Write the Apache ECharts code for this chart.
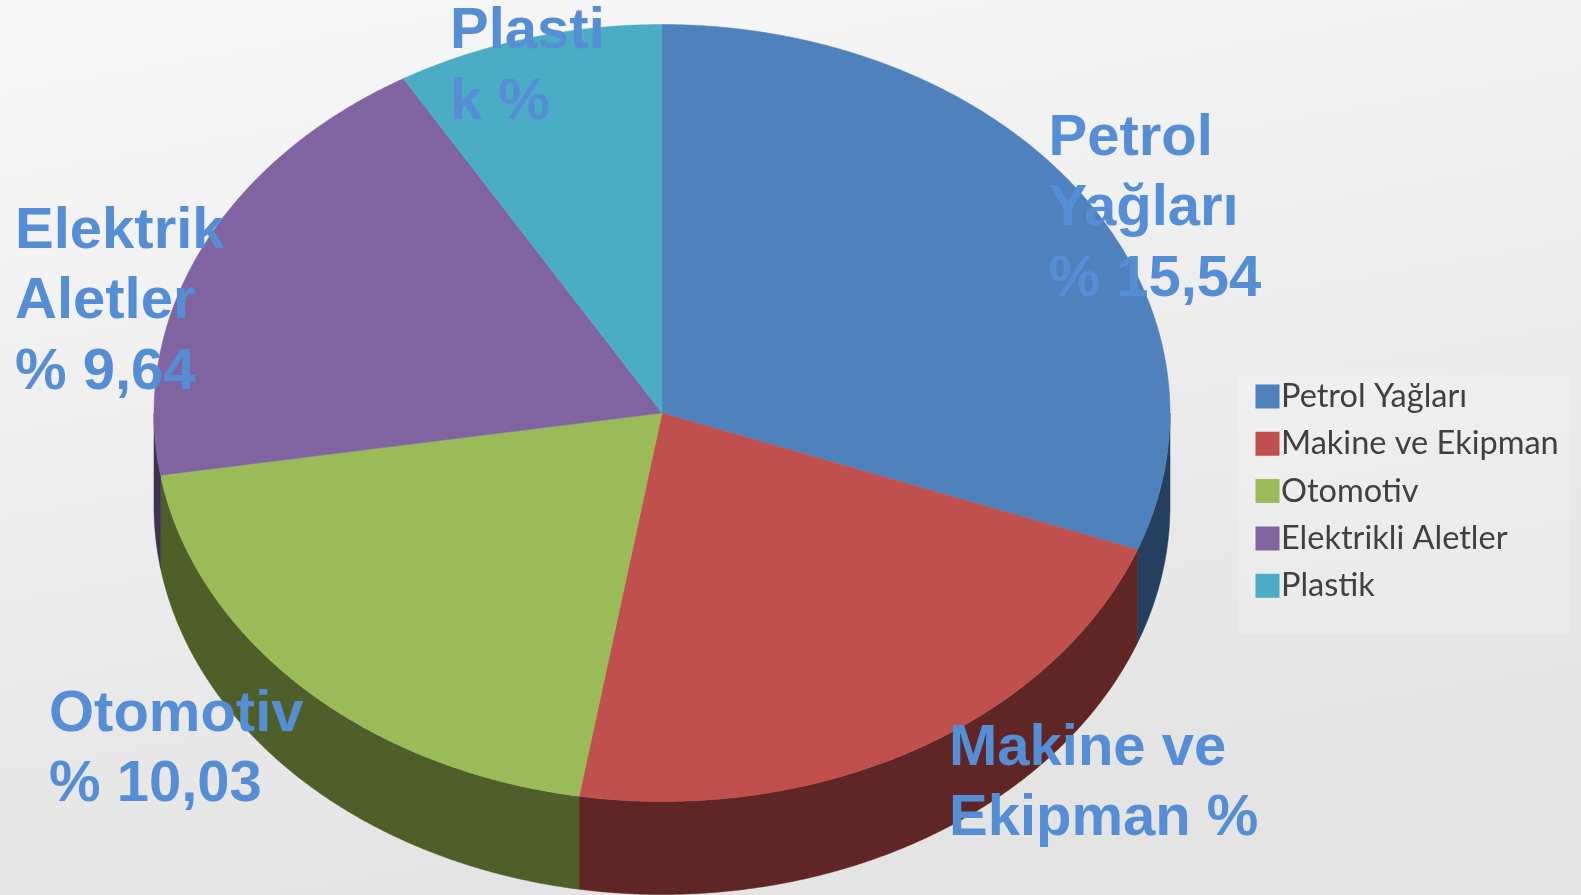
<!DOCTYPE html>
<html>
<head>
<meta charset="utf-8">
<style>html,body{margin:0;padding:0;width:1581px;height:895px;overflow:hidden}#c{width:1581px;height:895px}</style>
<script src="https://cdn.jsdelivr.net/npm/echarts@6/dist/echarts.min.js"></script>
</head>
<body>
<div id="c"></div>
<script>
const categories = ['Petrol Yağları', 'Makine ve Ekipman', 'Otomotiv', 'Elektrikli Aletler', 'Plastik'];
const values = [15.54, 11.07, 10.03, 9.64, 4.30];
const labelTexts = ['Petrol\nYağları\n% 15,54', 'Makine ve\nEkipman %', 'Otomotiv\n% 10,03', 'Elektrik\nAletler\n% 9,64', 'Plasti\nk %'];

const topColors = ['#4F81BD', '#C0504D', '#9BBB59', '#8064A2', '#4BACC6'];
const wallColors = ['#243F60', '#5F2625', '#4F5F29', '#3F3151', '#266070'];
const labelAnchors = [[1048.5, 103.5], [949, 713.5], [49, 679.5], [15, 196.5], [450, -3]];
const pie = { cx: 662, cy: 413, rx: 508, ry: 388.5, depth: 93 };

const total = values.reduce((a, b) => a + b, 0);
const DEG = Math.PI / 180;

function rim(theta, dy) {
  return [pie.cx + pie.rx * Math.sin(theta * DEG), pie.cy + dy - pie.ry * Math.cos(theta * DEG)];
}
function arc(from, to, dy) {
  const pts = [];
  const n = Math.max(2, Math.ceil((to - from) * 4));
  for (let i = 0; i <= n; i++) pts.push(rim(from + (to - from) * i / n, dy));
  return pts;
}
function renderSlice(params, api) {
  const idx = params.seriesIndex;
  const before = values.slice(0, idx).reduce((a, b) => a + b, 0);
  const start = before / total * 360;
  const end = start + api.value(0) / total * 360;
  const children = [];
  const wFrom = Math.max(start, 90), wTo = Math.min(end, 270);
  if (wTo > wFrom) {
    children.push({
      type: 'polygon',
      shape: { points: arc(wFrom, wTo, 0).concat(arc(wFrom, wTo, pie.depth).reverse()) },
      style: { fill: wallColors[idx], stroke: wallColors[idx], lineWidth: 0.5 }
    });
  }
  children.push({
    type: 'polygon',
    shape: { points: [[pie.cx, pie.cy]].concat(arc(start, end, 0)) },
    style: { fill: topColors[idx], stroke: topColors[idx], lineWidth: 0.5 }
  });
  return { type: 'group', children };
}

const chart = echarts.init(document.getElementById('c'), null, { renderer: 'canvas' });
chart.setOption({
  animation: false,
  backgroundColor: {
    type: 'linear', x: 0.15, y: 0, x2: 0.25, y2: 1,
    colorStops: [{ offset: 0, color: '#f7f7f7' }, { offset: 1, color: '#e4e4e4' }]
  },
  legend: {
    orient: 'vertical',
    left: 1238,
    top: 375,
    padding: [5, 10.5, 31, 17.5],
    backgroundColor: 'rgba(255,255,255,0.2)',
    itemWidth: 17,
    itemHeight: 17,
    itemGap: 14.3,
    icon: 'rect',
    selectedMode: false,
    itemStyle: { borderWidth: 7 },
    textStyle: { fontFamily: 'Lato', fontSize: 32.5, color: '#404040' },
    data: categories
  },
  series: categories.map((name, i) => ({
    type: 'custom',
    name,
    coordinateSystem: 'none',
    silent: true,
    itemStyle: { color: topColors[i], borderColor: topColors[i] },
    data: [[values[i]]],
    renderItem: renderSlice
  })),
  graphic: labelTexts.map((text, i) => ({
    type: 'text',
    x: labelAnchors[i][0],
    y: labelAnchors[i][1],
    z: 100,
    silent: true,
    style: {
      text,
      fill: '#558ED5',
      font: 'bold 58px "Liberation Sans"',
      lineHeight: 70.5,
      verticalAlign: 'top',
      align: 'left'
    }
  }))
});
</script>
</body>
</html>
